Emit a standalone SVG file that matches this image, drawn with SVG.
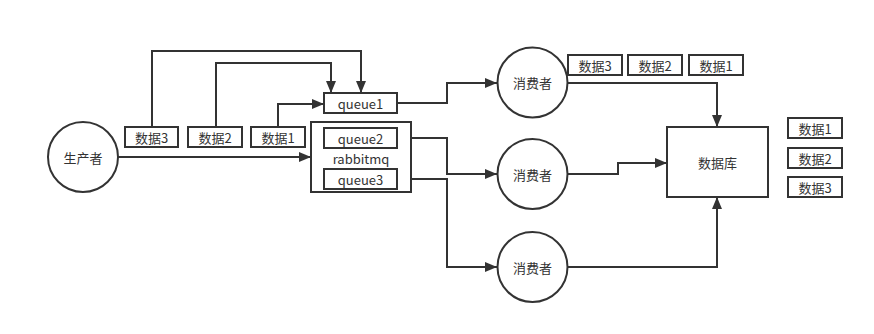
<svg xmlns="http://www.w3.org/2000/svg" width="874" height="334" viewBox="0 0 874 334">
<style>
.n{fill:#fff;stroke:#333;stroke-width:2}
.t{font-family:"Noto Sans CJK SC","Liberation Sans",sans-serif;font-size:13px;fill:#333;text-anchor:middle;dominant-baseline:central}
.e{fill:none;stroke:#333;stroke-width:2;marker-end:url(#a)}
</style>
<defs>
<marker id="a" markerUnits="userSpaceOnUse" markerWidth="12" markerHeight="10" refX="12" refY="5" orient="auto" viewBox="0 0 12 10">
<path d="M0,0 L12,5 L0,10 Z" fill="#333"/>
</marker>
</defs>
<rect width="874" height="334" fill="#fff"/>
<g id="connectors">
<path class="e" d="M152,127 V51 H361 V93"/>
<path class="e" d="M216,127 V63 H331 V93"/>
<path class="e" d="M278,127 V104 H324"/>
<path class="e" d="M118,157 H311"/>
<path class="e" d="M397,103 H447 V83 H497"/>
<path class="e" d="M397,138 H447 V174 H497"/>
<path class="e" d="M397,179 H447 V267 H497"/>
<path class="e" d="M568,83 H717 V127"/>
<path class="e" d="M568,174 H618 V163 H667"/>
<path class="e" d="M568,267 H717 V197"/>
</g>
<g id="producer"><circle class="n" cx="83" cy="157" r="35"/><text class="t" x="83" y="157">生产者</text></g>
<g id="p-data3"><rect class="n" x="125" y="127" width="53" height="20"/><text class="t" x="151.5" y="137">数据3</text></g>
<g id="p-data2"><rect class="n" x="188" y="127" width="54" height="20"/><text class="t" x="215" y="137">数据2</text></g>
<g id="p-data1"><rect class="n" x="251" y="127" width="54" height="20"/><text class="t" x="278" y="137">数据1</text></g>
<g id="rabbitmq"><rect class="n" x="311" y="122" width="100" height="70"/><text class="t" x="361" y="158">rabbitmq</text></g>
<g id="queue1"><rect class="n" x="324" y="93" width="73" height="20"/><text class="t" x="360.5" y="103">queue1</text></g>
<g id="queue2"><rect class="n" x="324" y="128" width="73" height="20"/><text class="t" x="360.5" y="138">queue2</text></g>
<g id="queue3"><rect class="n" x="324" y="169" width="73" height="20"/><text class="t" x="360.5" y="179">queue3</text></g>
<g id="consumer1"><circle class="n" cx="532.5" cy="82.5" r="35"/><text class="t" x="532.5" y="82.5">消费者</text></g>
<g id="consumer2"><circle class="n" cx="532.5" cy="174" r="35"/><text class="t" x="532.5" y="174">消费者</text></g>
<g id="consumer3"><circle class="n" cx="532.5" cy="267" r="35"/><text class="t" x="532.5" y="267">消费者</text></g>
<g id="c-data3"><rect class="n" x="568" y="55" width="54" height="20"/><text class="t" x="595" y="65">数据3</text></g>
<g id="c-data2"><rect class="n" x="628" y="55" width="54" height="20"/><text class="t" x="655" y="65">数据2</text></g>
<g id="c-data1"><rect class="n" x="689" y="55" width="54" height="20"/><text class="t" x="716" y="65">数据1</text></g>
<g id="database"><rect class="n" x="667" y="127" width="101" height="70"/><text class="t" x="717.5" y="162">数据库</text></g>
<g id="d-data1"><rect class="n" x="788" y="118" width="54" height="20"/><text class="t" x="815" y="128">数据1</text></g>
<g id="d-data2"><rect class="n" x="788" y="148" width="54" height="20"/><text class="t" x="815" y="158">数据2</text></g>
<g id="d-data3"><rect class="n" x="788" y="177" width="54" height="20"/><text class="t" x="815" y="187">数据3</text></g>
</svg>
